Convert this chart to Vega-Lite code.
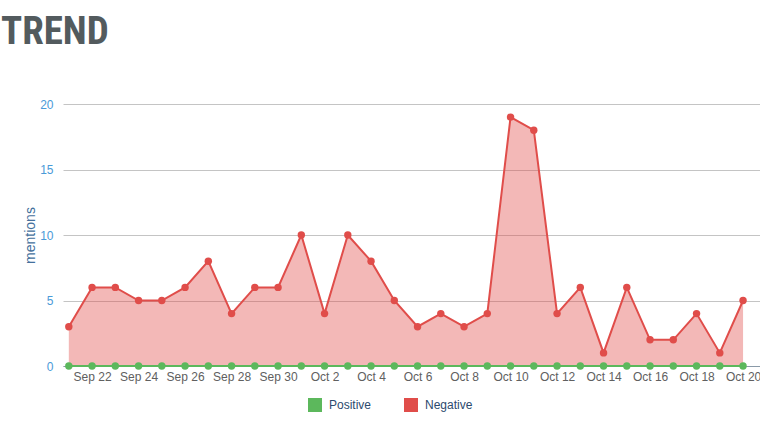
{
  "$schema": "https://vega.github.io/schema/vega-lite/v6.json",
  "autosize": "none",
  "width": 697,
  "height": 262,
  "padding": {"left": 63, "top": 104, "right": 0, "bottom": 74},
  "background": "white",
  "title": {
    "text": "TREND",
    "anchor": "start",
    "frame": "group",
    "orient": "top",
    "dx": -62,
    "offset": 15,
    "font": "Roboto Condensed, Roboto",
    "fontSize": 39,
    "fontWeight": "bold",
    "color": "#535b5e",
    "baseline": "alphabetic"
  },
  "config": {
    "view": {"stroke": null},
    "axis": {"labelFont": "Liberation Sans", "titleFont": "Liberation Sans"},
    "legend": {"labelFont": "Liberation Sans"}
  },
  "data": {
    "values": [
      {"date": "2023-09-21", "sentiment": "Negative", "mentions": 3},
      {"date": "2023-09-22", "sentiment": "Negative", "mentions": 6},
      {"date": "2023-09-23", "sentiment": "Negative", "mentions": 6},
      {"date": "2023-09-24", "sentiment": "Negative", "mentions": 5},
      {"date": "2023-09-25", "sentiment": "Negative", "mentions": 5},
      {"date": "2023-09-26", "sentiment": "Negative", "mentions": 6},
      {"date": "2023-09-27", "sentiment": "Negative", "mentions": 8},
      {"date": "2023-09-28", "sentiment": "Negative", "mentions": 4},
      {"date": "2023-09-29", "sentiment": "Negative", "mentions": 6},
      {"date": "2023-09-30", "sentiment": "Negative", "mentions": 6},
      {"date": "2023-10-01", "sentiment": "Negative", "mentions": 10},
      {"date": "2023-10-02", "sentiment": "Negative", "mentions": 4},
      {"date": "2023-10-03", "sentiment": "Negative", "mentions": 10},
      {"date": "2023-10-04", "sentiment": "Negative", "mentions": 8},
      {"date": "2023-10-05", "sentiment": "Negative", "mentions": 5},
      {"date": "2023-10-06", "sentiment": "Negative", "mentions": 3},
      {"date": "2023-10-07", "sentiment": "Negative", "mentions": 4},
      {"date": "2023-10-08", "sentiment": "Negative", "mentions": 3},
      {"date": "2023-10-09", "sentiment": "Negative", "mentions": 4},
      {"date": "2023-10-10", "sentiment": "Negative", "mentions": 19},
      {"date": "2023-10-11", "sentiment": "Negative", "mentions": 18},
      {"date": "2023-10-12", "sentiment": "Negative", "mentions": 4},
      {"date": "2023-10-13", "sentiment": "Negative", "mentions": 6},
      {"date": "2023-10-14", "sentiment": "Negative", "mentions": 1},
      {"date": "2023-10-15", "sentiment": "Negative", "mentions": 6},
      {"date": "2023-10-16", "sentiment": "Negative", "mentions": 2},
      {"date": "2023-10-17", "sentiment": "Negative", "mentions": 2},
      {"date": "2023-10-18", "sentiment": "Negative", "mentions": 4},
      {"date": "2023-10-19", "sentiment": "Negative", "mentions": 1},
      {"date": "2023-10-20", "sentiment": "Negative", "mentions": 5},
      {"date": "2023-09-21", "sentiment": "Positive", "mentions": 0},
      {"date": "2023-09-22", "sentiment": "Positive", "mentions": 0},
      {"date": "2023-09-23", "sentiment": "Positive", "mentions": 0},
      {"date": "2023-09-24", "sentiment": "Positive", "mentions": 0},
      {"date": "2023-09-25", "sentiment": "Positive", "mentions": 0},
      {"date": "2023-09-26", "sentiment": "Positive", "mentions": 0},
      {"date": "2023-09-27", "sentiment": "Positive", "mentions": 0},
      {"date": "2023-09-28", "sentiment": "Positive", "mentions": 0},
      {"date": "2023-09-29", "sentiment": "Positive", "mentions": 0},
      {"date": "2023-09-30", "sentiment": "Positive", "mentions": 0},
      {"date": "2023-10-01", "sentiment": "Positive", "mentions": 0},
      {"date": "2023-10-02", "sentiment": "Positive", "mentions": 0},
      {"date": "2023-10-03", "sentiment": "Positive", "mentions": 0},
      {"date": "2023-10-04", "sentiment": "Positive", "mentions": 0},
      {"date": "2023-10-05", "sentiment": "Positive", "mentions": 0},
      {"date": "2023-10-06", "sentiment": "Positive", "mentions": 0},
      {"date": "2023-10-07", "sentiment": "Positive", "mentions": 0},
      {"date": "2023-10-08", "sentiment": "Positive", "mentions": 0},
      {"date": "2023-10-09", "sentiment": "Positive", "mentions": 0},
      {"date": "2023-10-10", "sentiment": "Positive", "mentions": 0},
      {"date": "2023-10-11", "sentiment": "Positive", "mentions": 0},
      {"date": "2023-10-12", "sentiment": "Positive", "mentions": 0},
      {"date": "2023-10-13", "sentiment": "Positive", "mentions": 0},
      {"date": "2023-10-14", "sentiment": "Positive", "mentions": 0},
      {"date": "2023-10-15", "sentiment": "Positive", "mentions": 0},
      {"date": "2023-10-16", "sentiment": "Positive", "mentions": 0},
      {"date": "2023-10-17", "sentiment": "Positive", "mentions": 0},
      {"date": "2023-10-18", "sentiment": "Positive", "mentions": 0},
      {"date": "2023-10-19", "sentiment": "Positive", "mentions": 0},
      {"date": "2023-10-20", "sentiment": "Positive", "mentions": 0}
    ]
  },
  "encoding": {
    "x": {
      "field": "date",
      "type": "temporal",
      "timeUnit": "yearmonthdate",
      "scale": {"domain": [{"year": 2023, "month": 9, "date": 20, "hours": 18}, {"year": 2023, "month": 10, "date": 20, "hours": 17, "minutes": 30}]},
      "axis": {
        "title": null,
        "values": [
          {"year": 2023, "month": 9, "date": 22},
          {"year": 2023, "month": 9, "date": 24},
          {"year": 2023, "month": 9, "date": 26},
          {"year": 2023, "month": 9, "date": 28},
          {"year": 2023, "month": 9, "date": 30},
          {"year": 2023, "month": 10, "date": 2},
          {"year": 2023, "month": 10, "date": 4},
          {"year": 2023, "month": 10, "date": 6},
          {"year": 2023, "month": 10, "date": 8},
          {"year": 2023, "month": 10, "date": 10},
          {"year": 2023, "month": 10, "date": 12},
          {"year": 2023, "month": 10, "date": 14},
          {"year": 2023, "month": 10, "date": 16},
          {"year": 2023, "month": 10, "date": 18},
          {"year": 2023, "month": 10, "date": 20}
        ],
        "format": "%b %-d",
        "grid": false,
        "ticks": false,
        "domain": true,
        "domainColor": "#8a9aa8",
        "domainWidth": 1,
        "labelColor": "#606060",
        "labelFontSize": 12,
        "labelPadding": 5,
        "labelOverlap": false,
        "labelFlush": false
      }
    },
    "y": {
      "field": "mentions",
      "type": "quantitative",
      "scale": {"domain": [0, 20], "nice": false},
      "axis": {
        "title": "mentions",
        "titleColor": "#44709c",
        "titleFontSize": 14,
        "titleFontWeight": "normal",
        "titlePadding": 2,
        "values": [0, 5, 10, 15, 20],
        "labelColor": "#4a9ad8",
        "labelFontSize": 12,
        "labelPadding": 10,
        "ticks": false,
        "domain": false,
        "gridColor": "#c4c4c4",
        "gridWidth": 1
      }
    },
    "color": {
      "field": "sentiment",
      "type": "nominal",
      "scale": {"domain": ["Positive", "Negative"], "range": ["#5cb85c", "#e04d4a"]},
      "legend": {
        "title": null,
        "orient": "none",
        "direction": "horizontal",
        "legendX": 245,
        "legendY": 294,
        "symbolType": "square",
        "symbolSize": 196,
        "symbolStrokeWidth": 0,
        "symbolOpacity": 1,
        "labelColor": "#2c4a6e",
        "labelFontSize": 12,
        "labelOffset": 7,
        "columnPadding": 32
      }
    }
  },
  "layer": [
    {
      "transform": [{"filter": "datum.sentiment == 'Negative'"}],
      "mark": {"type": "area", "opacity": 0.4, "line": false}
    },
    {
      "mark": {"type": "line", "strokeWidth": 2},
      "encoding": {"order": {"field": "date", "type": "temporal"}}
    },
    {
      "mark": {"type": "point", "filled": true, "size": 55, "opacity": 1}
    }
  ]
}
